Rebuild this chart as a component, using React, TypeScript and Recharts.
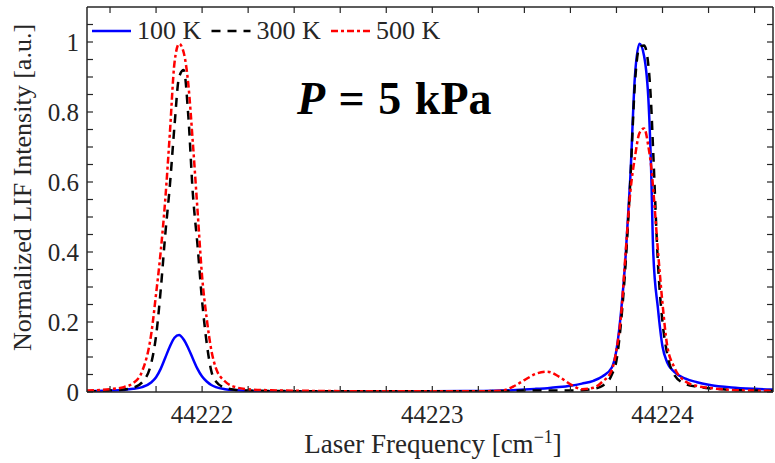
import { Customized, Legend, Line, LineChart, XAxis, YAxis } from "recharts";

// laser frequency [cm^-1]
const FREQ = [
    44221.5, 44221.6, 44221.66, 44221.7, 44221.74, 44221.78, 44221.8, 44221.82, 44221.84, 44221.86, 44221.88, 44221.9,
    44221.92, 44221.94, 44221.96, 44221.98, 44222.0, 44222.02, 44222.04, 44222.06, 44222.1, 44222.15, 44222.2, 44222.3,
    44222.5, 44222.8, 44223.0, 44223.2,
    44223.3, 44223.35, 44223.4, 44223.45, 44223.5, 44223.55, 44223.6, 44223.65, 44223.7,
    44223.74, 44223.78, 44223.8, 44223.82, 44223.84, 44223.86, 44223.88, 44223.9, 44223.92, 44223.94, 44223.95,
    44223.96, 44223.98, 44224.0, 44224.02, 44224.05, 44224.1, 44224.15, 44224.2, 44224.3, 44224.4, 44224.48,
];

const K100 = [
    0.002, 0.004, 0.006, 0.009, 0.014, 0.028, 0.042, 0.066, 0.098, 0.13, 0.155, 0.163,
    0.15, 0.125, 0.095, 0.066, 0.044, 0.03, 0.02, 0.014, 0.008, 0.005, 0.003, 0.002,
    0.001, 0.001, 0.002, 0.003,
    0.004, 0.005, 0.007, 0.009, 0.011, 0.014, 0.018, 0.024, 0.032,
    0.045, 0.07, 0.12, 0.23, 0.39, 0.61, 0.9, 0.995, 0.96, 0.82, 0.65,
    0.395, 0.24, 0.13, 0.085, 0.058, 0.038, 0.028, 0.021, 0.013, 0.009, 0.007,
];

const K300 = [
    0.002, 0.004, 0.007, 0.012, 0.028, 0.085, 0.16, 0.29, 0.45, 0.59, 0.76, 0.9,
    0.92, 0.79, 0.565, 0.42, 0.26, 0.14, 0.06, 0.03, 0.012, 0.006, 0.004, 0.003,
    0.002, 0.002, 0.002, 0.002,
    0.003, 0.003, 0.004, 0.004, 0.004, 0.004, 0.004, 0.005, 0.009,
    0.018, 0.05, 0.09, 0.2, 0.37, 0.6, 0.88, 0.985, 0.99, 0.925, 0.83,
    0.68, 0.37, 0.2, 0.11, 0.05, 0.023, 0.015, 0.011, 0.006, 0.004, 0.003,
];

const K500 = [
    0.004, 0.008, 0.014, 0.025, 0.06, 0.17, 0.28, 0.4, 0.55, 0.74, 0.94, 0.995,
    0.97, 0.88, 0.71, 0.52, 0.33, 0.21, 0.12, 0.068, 0.03, 0.013, 0.008, 0.005,
    0.003, 0.002, 0.002, 0.002,
    0.004, 0.015, 0.034, 0.052, 0.058, 0.044, 0.022, 0.008, 0.012,
    0.03, 0.063, 0.12, 0.22, 0.4, 0.57, 0.67, 0.74, 0.753, 0.696, 0.65,
    0.577, 0.405, 0.253, 0.134, 0.072, 0.03, 0.017, 0.012, 0.006, 0.004, 0.003,
];

const SERIES_NAMES = ["100 K", "300 K", "500 K"];

const X_TICKS = [
    44221.6, 44221.8, 44222, 44222.2, 44222.4, 44222.6, 44222.8, 44223, 44223.2, 44223.4, 44223.6, 44223.8, 44224,
    44224.2, 44224.4,
];
const X_LABELS = [44222, 44223, 44224];
const Y_TICKS = [
    0, 0.05, 0.1, 0.15, 0.2, 0.25, 0.3, 0.35, 0.4, 0.45, 0.5, 0.55, 0.6, 0.65, 0.7, 0.75, 0.8, 0.85, 0.9, 0.95, 1,
    1.05,
];
const Y_LABELS = [0, 0.2, 0.4, 0.6, 0.8, 1];

const rows = FREQ.map((f, i) => ({ f, k100: K100[i], k300: K300[i], k500: K500[i] }));

const AXIS = "#262626";
const FONT = "'Liberation Serif', 'Times New Roman', serif";
const TICK_LEN = 6;

const STYLES: Record<string, { color: string; dash?: string }> = {
    k100: { color: "#0000ff" },
    k300: { color: "#000000", dash: "9 7" },
    k500: { color: "#ff0000", dash: "7 3 3 3" },
};

const BottomTick = ({ x, y, payload }: any) => (
    <g>
        <line x1={x} x2={x} y1={y} y2={y - TICK_LEN} stroke={AXIS} strokeWidth={1.2} />
        {X_LABELS.includes(payload.value) && (
            <text x={x} y={y + 31} textAnchor="middle" fontFamily={FONT} fontSize={25} fill={AXIS}>
                {payload.value}
            </text>
        )}
    </g>
);

const TopTick = ({ x, y }: any) => (
    <line x1={x} x2={x} y1={y} y2={y + TICK_LEN} stroke={AXIS} strokeWidth={1.2} />
);

const LeftTick = ({ x, y, payload }: any) => (
    <g>
        <line x1={x} x2={x + TICK_LEN} y1={y} y2={y} stroke={AXIS} strokeWidth={1.2} />
        {Y_LABELS.includes(payload.value) && (
            <text x={x - 8} y={y + 9} textAnchor="end" fontFamily={FONT} fontSize={25} fill={AXIS}>
                {String(payload.value)}
            </text>
        )}
    </g>
);

const RightTick = ({ x, y }: any) => (
    <line x1={x} x2={x - TICK_LEN} y1={y} y2={y} stroke={AXIS} strokeWidth={1.2} />
);

const XTitle = ({ viewBox }: any) => (
    <text x={viewBox.x + viewBox.width / 2 + 3} y={viewBox.y + 61} textAnchor="middle" fontFamily={FONT} fontSize={27} fill={AXIS}>
        Laser Frequency [cm
        <tspan dy={-10} fontSize={18}>
            −1
        </tspan>
        <tspan dy={10}>]</tspan>
    </text>
);

const YTitle = ({ viewBox }: any) => {
    const x = viewBox.x + 31;
    const y = viewBox.y + viewBox.height / 2 - 12;
    return (
        <text x={x} y={y} transform={`rotate(-90, ${x}, ${y})`} textAnchor="middle" fontFamily={FONT} fontSize={26} fill={AXIS}>
            Normalized LIF Intensity [a.u.]
        </text>
    );
};

const LegendContent = ({ payload }: any) => (
    <svg width={370} height={34}>
        {(payload || []).map((e: any, i: number) => {
            const st = STYLES[e.dataKey];
            const x0 = 4 + i * 119.5;
            return (
                <g key={e.dataKey}>
                    <line x1={x0} x2={x0 + 39} y1={19} y2={19} stroke={st.color} strokeWidth={2.5} strokeDasharray={st.dash} />
                    <text x={x0 + 45} y={27} fontFamily={FONT} fontSize={26} fill={AXIS}>
                        {e.value}
                    </text>
                </g>
            );
        })}
    </svg>
);

const Pressure = () => (
    <text x={297} y={114} fontFamily={FONT} fontWeight="bold" fontSize={46} fill="#000" wordSpacing={2}>
        <tspan fontStyle="italic">P</tspan>
        {" = 5 kPa"}
    </text>
);

export default function App() {
    return (
        <div style={{ position: "absolute", left: 0, top: 0, background: "#fff" }}>
            <LineChart width={775} height={463} data={rows} margin={{ top: 6, right: 1, bottom: 0, left: 0 }}>
                <XAxis
                    dataKey="f"
                    type="number"
                    domain={[44221.5, 44224.48]}
                    allowDataOverflow
                    ticks={X_TICKS}
                    interval={0}
                    height={71}
                    tickSize={0}
                    tickMargin={0}
                    tickLine={false}
                    tick={<BottomTick />}
                    axisLine={{ stroke: AXIS, strokeWidth: 1.5 }}
                    label={<XTitle />}
                />
                <XAxis
                    xAxisId="top"
                    orientation="top"
                    dataKey="f"
                    type="number"
                    domain={[44221.5, 44224.48]}
                    allowDataOverflow
                    ticks={X_TICKS}
                    interval={0}
                    height={1}
                    tickSize={0}
                    tickMargin={0}
                    tickLine={false}
                    tick={<TopTick />}
                    axisLine={{ stroke: AXIS, strokeWidth: 1.5 }}
                />
                <YAxis
                    type="number"
                    domain={[0, 1.1]}
                    allowDataOverflow
                    ticks={Y_TICKS}
                    interval={0}
                    width={87}
                    tickSize={0}
                    tickMargin={0}
                    tickLine={false}
                    tick={<LeftTick />}
                    axisLine={{ stroke: AXIS, strokeWidth: 1.5 }}
                    label={<YTitle />}
                />
                <YAxis
                    yAxisId="right"
                    orientation="right"
                    type="number"
                    domain={[0, 1.1]}
                    allowDataOverflow
                    ticks={Y_TICKS}
                    interval={0}
                    width={1}
                    tickSize={0}
                    tickMargin={0}
                    tickLine={false}
                    tick={<RightTick />}
                    axisLine={{ stroke: AXIS, strokeWidth: 1.5 }}
                />
                <Legend
                    layout="vertical"
                    align="center"
                    verticalAlign="middle"
                    wrapperStyle={{ top: 12, left: 88, width: 370, height: 34 }}
                    content={<LegendContent />}
                />
                {["k100", "k300", "k500"].map((k, i) => (
                    <Line
                        key={k}
                        dataKey={k}
                        name={SERIES_NAMES[i]}
                        type="monotone"
                        stroke={STYLES[k].color}
                        strokeDasharray={STYLES[k].dash}
                        strokeWidth={2.5}
                        dot={false}
                        isAnimationActive={false}
                    />
                ))}
                <Customized component={Pressure} />
            </LineChart>
        </div>
    );
}
